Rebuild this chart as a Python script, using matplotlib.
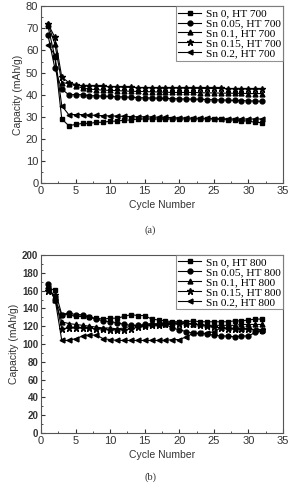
import numpy as np
import matplotlib
matplotlib.use("Agg")
import matplotlib.pyplot as plt
from matplotlib.ticker import MultipleLocator

cycles = np.arange(1, 33)

labels_a = ["Sn 0, HT 700", "Sn 0.05, HT 700", "Sn 0.1, HT 700",
            "Sn 0.15, HT 700", "Sn 0.2, HT 700"]
labels_b = ["Sn 0, HT 800", "Sn 0.05, HT 800", "Sn 0.1, HT 800",
            "Sn 0.15, HT 800", "Sn 0.2, HT 800"]
markers = ["s", "o", "^", "*", "<"]

# panel (a), HT 700
sn0_a = [71, 57, 29, 26, 26.5, 27, 27, 27.5, 27.5, 28, 28, 28.5, 28.5, 29, 29, 29,
         29, 29, 29, 29, 29, 29, 29, 29, 29, 28.8, 28.6, 28.5, 28.3, 28, 27.5, 27.3]
sn005_a = [67, 52, 42.5, 40, 40, 40, 39.5, 39.5, 39.3, 39.2, 39, 39, 38.8, 38.7, 38.5,
           38.5, 38.4, 38.3, 38.2, 38.1, 38, 38, 37.9, 37.8, 37.7, 37.6, 37.5, 37.4,
           37.3, 37.2, 37.1, 37]
sn01_a = [72, 63, 45.5, 45, 44, 43, 42.5, 42.3, 42, 42, 41.8, 41.7, 41.5, 41.5, 41.4,
          41.3, 41.2, 41.1, 41, 41, 41, 41, 40.9, 40.8, 40.8, 40.7, 40.7, 40.6, 40.6,
          40.5, 40.5, 40.5]
sn015_a = [72, 66, 48, 45.5, 44.5, 44, 44, 43.8, 43.7, 43.6, 43.5, 43.4, 43.3, 43.2,
           43.2, 43.1, 43, 43, 43, 43, 43, 42.9, 42.9, 42.8, 42.8, 42.8, 42.7, 42.7,
           42.6, 42.6, 42.5, 42.5]
sn02_a = [62.5, 58, 35, 31, 31, 31, 30.8, 30.6, 30.5, 30.4, 30.3, 30.2, 30.1, 30, 30,
          29.9, 29.8, 29.7, 29.6, 29.5, 29.5, 29.4, 29.3, 29.3, 29.2, 29.1, 29.1, 29,
          29, 29, 29, 29]

# panel (b), HT 800
sn0_b = [162, 161, 133, 133, 131, 131, 130, 129, 128, 129, 129, 131, 133, 132, 132,
         128, 127, 126, 125, 125, 125, 126, 125, 125, 125, 125, 125, 126, 126, 127,
         128, 128]
sn005_b = [167, 150, 133, 135, 133, 133, 130, 128, 126, 125, 124, 122, 121, 121, 122,
           123, 122, 122, 118, 116, 114, 112, 112, 111, 110, 109, 109, 108, 109, 109,
           113, 115]
sn01_b = [165, 150, 125, 123, 122, 121, 120, 119, 118, 118, 117, 118, 120, 121, 121,
          122, 123, 124, 124, 125, 124, 122, 122, 121, 121, 121, 121, 121, 122, 122,
          122, 122]
sn015_b = [160, 155, 117, 118, 118, 118, 118, 117, 117, 116, 116, 116, 117, 119, 120,
           121, 121, 122, 122, 123, 123, 122, 121, 120, 119, 118, 117, 117, 117, 117,
           116, 116]
sn02_b = [163, 152, 104, 104, 106, 109, 110, 110, 106, 105, 104, 104, 104, 104, 104,
          104, 104, 104, 105, 105, 108, 112, 112, 112, 114, 118, 118, 117, 117, 117,
          116, 116]

series_a = [sn0_a, sn005_a, sn01_a, sn015_a, sn02_a]
series_b = [sn0_b, sn005_b, sn01_b, sn015_b, sn02_b]

plt.rcParams["font.family"] = ["Liberation Sans", "DejaVu Sans"]

fig = plt.figure(figsize=(2.89, 4.83), dpi=100)
ax_a = fig.add_axes([0.142, 0.621, 0.837, 0.366])
ax_b = fig.add_axes([0.142, 0.1035, 0.837, 0.3685])


def draw_panel(ax, series, labels, ymax, ymajor, yminor, bold_y):
    for vals, mk, lab in zip(series, markers, labels):
        ms = 5 if mk == "*" else 3.5
        ax.plot(cycles, vals, color="black", lw=0.8, marker=mk, ms=ms, label=lab)
    ax.set_xlim(0, 35)
    ax.set_ylim(0, ymax)
    ax.xaxis.set_major_locator(MultipleLocator(5))
    ax.xaxis.set_minor_locator(MultipleLocator(2.5))
    ax.yaxis.set_major_locator(MultipleLocator(ymajor))
    ax.yaxis.set_minor_locator(MultipleLocator(yminor))
    ax.tick_params(which="both", direction="in", labelsize=8, color="#333333",
                   labelcolor="#333333", pad=2)
    ax.tick_params(which="major", length=3)
    ax.tick_params(which="minor", length=1.5)
    if bold_y:
        for t in ax.get_yticklabels():
            t.set_fontweight("bold")
            t.set_fontsize(7)
    for sp in ax.spines.values():
        sp.set_color("#555555")
        sp.set_linewidth(0.8)
    ax.set_xlabel("Cycle Number", fontsize=7.5, color="#333333", labelpad=3)
    ax.set_ylabel("Capacity (mAh/g)", fontsize=7.5, color="#333333", labelpad=2)
    leg = ax.legend(loc="upper right", borderaxespad=0, fancybox=False,
                    handlelength=2, handletextpad=0.4, labelspacing=0.0,
                    borderpad=0.2, prop={"family": "Liberation Serif", "size": 8.2})
    leg.get_frame().set_edgecolor("#777777")
    leg.get_frame().set_linewidth(0.8)


draw_panel(ax_a, series_a, labels_a, 80, 10, 5, False)
draw_panel(ax_b, series_b, labels_b, 200, 20, 10, True)

fig.text(0.52, 0.524, "(a)", ha="center", va="center", fontsize=7.5,
         family="Liberation Serif", color="#333333")
fig.text(0.52, 0.012, "(b)", ha="center", va="center", fontsize=7.5,
         family="Liberation Serif", color="#333333")

fig.savefig("out.png", dpi=100)
